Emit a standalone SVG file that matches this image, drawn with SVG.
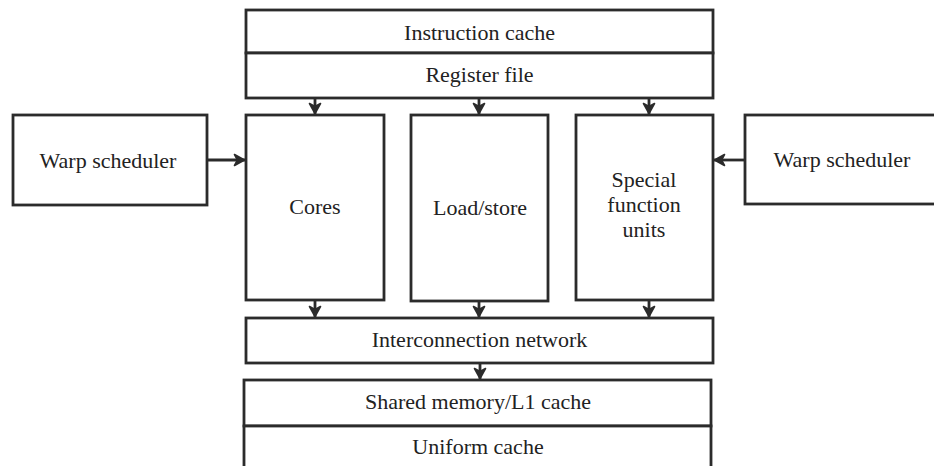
<svg xmlns="http://www.w3.org/2000/svg" width="934" height="466" viewBox="0 0 934 466">
  <style>
    .box { fill: #ffffff; stroke: #2b2b2b; stroke-width: 2.8; }
    .lbl { font-family: "Liberation Serif", "Times New Roman", serif; font-size: 22px; fill: #222222; text-anchor: middle; }
    .wire { fill: none; stroke: #2b2b2b; stroke-width: 2.8; }
  </style>
  <defs>
    <!-- bold barbed chevron head -->
    <marker id="head" viewBox="0 0 14 14" refX="12" refY="7" markerWidth="14" markerHeight="14" markerUnits="userSpaceOnUse" orient="auto">
      <path d="M1.5,1.5 L11.5,7 L1.5,12.5 L4.5,7 Z" fill="#2b2b2b" stroke="#2b2b2b" stroke-width="1.6" stroke-linejoin="round"/>
    </marker>
  </defs>
  <rect width="934" height="466" fill="#ffffff"/>

  <!-- Instruction cache and register file stack -->
  <g id="instruction-cache">
    <rect class="box" x="246" y="10" width="467" height="43"/>
    <text class="lbl" x="479.5" y="40">Instruction cache</text>
  </g>
  <g id="register-file">
    <rect class="box" x="246" y="53" width="467" height="45"/>
    <text class="lbl" x="479.5" y="82">Register file</text>
  </g>

  <!-- Schedulers -->
  <g id="warp-scheduler-left">
    <rect class="box" x="13" y="115" width="194" height="90"/>
    <text class="lbl" x="108" y="168">Warp scheduler</text>
  </g>
  <g id="warp-scheduler-right">
    <rect class="box" x="745" y="115" width="200" height="89"/>
    <text class="lbl" x="842" y="167">Warp scheduler</text>
  </g>

  <!-- Execution units -->
  <g id="cores">
    <rect class="box" x="246" y="115" width="138" height="185"/>
    <text class="lbl" x="315" y="214">Cores</text>
  </g>
  <g id="load-store">
    <rect class="box" x="411" y="115" width="137" height="186"/>
    <text class="lbl" x="480" y="215">Load/store</text>
  </g>
  <g id="special-function-units">
    <rect class="box" x="576" y="115" width="137" height="185"/>
    <text class="lbl" x="644" y="187">Special</text>
    <text class="lbl" x="644" y="212">function</text>
    <text class="lbl" x="644" y="237">units</text>
  </g>

  <!-- Interconnect and memory -->
  <g id="interconnection-network">
    <rect class="box" x="246" y="318" width="467" height="45"/>
    <text class="lbl" x="479.5" y="347">Interconnection network</text>
  </g>
  <g id="shared-memory">
    <rect class="box" x="244" y="380" width="467" height="46"/>
    <text class="lbl" x="478" y="409">Shared memory/L1 cache</text>
  </g>
  <g id="uniform-cache">
    <rect class="box" x="244" y="426" width="467" height="50"/>
    <text class="lbl" x="478" y="454">Uniform cache</text>
  </g>

  <!-- Connectors -->
  <g id="connectors">
    <line class="wire" x1="315" y1="99" x2="315" y2="114" marker-end="url(#head)"/>
    <line class="wire" x1="479" y1="99" x2="479" y2="114" marker-end="url(#head)"/>
    <line class="wire" x1="649" y1="99" x2="649" y2="114" marker-end="url(#head)"/>
    <line class="wire" x1="208" y1="160" x2="245" y2="160" marker-end="url(#head)"/>
    <line class="wire" x1="744" y1="160" x2="714" y2="160" marker-end="url(#head)"/>
    <line class="wire" x1="315" y1="301" x2="315" y2="317" marker-end="url(#head)"/>
    <line class="wire" x1="479" y1="302" x2="479" y2="317" marker-end="url(#head)"/>
    <line class="wire" x1="649" y1="301" x2="649" y2="317" marker-end="url(#head)"/>
    <line class="wire" x1="480" y1="364" x2="480" y2="379" marker-end="url(#head)"/>
  </g>
</svg>
